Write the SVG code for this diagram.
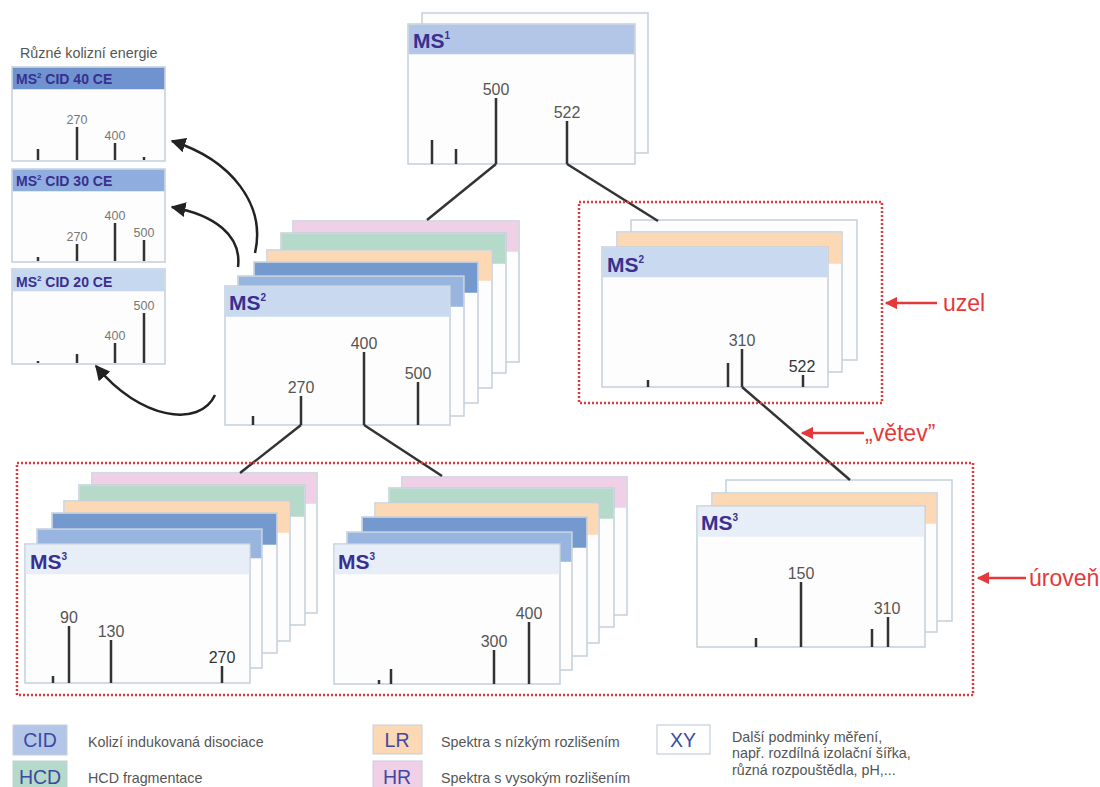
<svg xmlns="http://www.w3.org/2000/svg" width="1100" height="787" viewBox="0 0 1100 787">
<defs>
<style>
.card{fill:#fdfdfd;stroke:#c3cfdb;stroke-width:1.5}
.h-pk{fill:#efd0e6}.h-gr{fill:#b5dac9}.h-or{fill:#fcd8b5}.h-db{fill:#7399cf}.h-lb{fill:#98b5df}
.h-ms2{fill:#c9daf0}.h-ms3{fill:#e7eef8}.h-ms1{fill:#b4c6e8}
.h-40{fill:#6e93cf}.h-30{fill:#8faddf}.h-20{fill:#c6d8f0}
.peak{stroke:#333;stroke-width:2.5;fill:none}
.lbl{font-family:"Liberation Sans",Arial,sans-serif;font-size:16px;fill:#555;text-anchor:middle}
.slbl{font-family:"Liberation Sans",Arial,sans-serif;font-size:12.5px;fill:#777;text-anchor:middle}
.ms{font-family:"Liberation Sans",Arial,sans-serif;font-weight:bold;font-size:21px;fill:#3a2f8f}
.ptitle{font-family:"Liberation Sans",Arial,sans-serif;font-weight:bold;font-size:14px;fill:#3a2f8f}
.conn{stroke:#333;stroke-width:2.5;fill:none}
.curve{stroke:#222;stroke-width:2.5;fill:none}
.red{stroke:#e5383b;stroke-width:2.5;stroke-dasharray:2 2;fill:none}
.redl{stroke:#e5383b;stroke-width:2.5;fill:none}
.redt{font-family:"Liberation Sans",Arial,sans-serif;font-size:23px;fill:#e5383b}
.txt{font-family:"Liberation Sans",Arial,sans-serif;font-size:14.3px;fill:#555}
.ltag{font-family:"Liberation Sans",Arial,sans-serif;font-size:19.5px;fill:#3d4aa3;text-anchor:middle}
</style>
<marker id="ah" viewBox="0 0 10 10" refX="9" refY="5" markerWidth="6" markerHeight="6" orient="auto" markerUnits="strokeWidth">
<path d="M0,0 L10,5 L0,10 Z" fill="#222"/>
</marker>
<marker id="rh" viewBox="0 0 10 10" refX="9" refY="5" markerWidth="5" markerHeight="5" orient="auto" markerUnits="strokeWidth">
<path d="M0,0 L10,5 L0,10 Z" fill="#e5383b"/>
</marker>
</defs>

<rect width="1100" height="787" fill="#ffffff"/>

<!-- top-left panels -->
<g id="panels-title"><text class="txt" x="20" y="58">Různé kolizní energie</text></g>

<g id="cid40">
<rect class="card" x="12" y="67" width="153" height="94"/>
<rect class="h-40" x="12.75" y="67.75" width="151.5" height="21.5"/>
<text class="ptitle" x="16" y="84">MS<tspan dy="-6" font-size="8">2</tspan><tspan dy="6"> CID 40 CE</tspan></text>
<path class="peak" d="M38,160V149M77,160V127M115,160V143M144,160V157"/>
<text class="slbl" x="77" y="124">270</text>
<text class="slbl" x="115" y="140">400</text>
</g>

<g id="cid30">
<rect class="card" x="12" y="169" width="153" height="93"/>
<rect class="h-30" x="12.75" y="169.75" width="151.5" height="21.5"/>
<text class="ptitle" x="16" y="186">MS<tspan dy="-6" font-size="8">2</tspan><tspan dy="6"> CID 30 CE</tspan></text>
<path class="peak" d="M38,261V257M77,261V244M115,261V223M144,261V240"/>
<text class="slbl" x="77" y="241">270</text>
<text class="slbl" x="115" y="220">400</text>
<text class="slbl" x="144" y="237">500</text>
</g>

<g id="cid20">
<rect class="card" x="12" y="269" width="153" height="95"/>
<rect class="h-20" x="12.75" y="269.75" width="151.5" height="21.5"/>
<text class="ptitle" x="16" y="287">MS<tspan dy="-6" font-size="8">2</tspan><tspan dy="6"> CID 20 CE</tspan></text>
<path class="peak" d="M38,363V361M77,363V354M115,363V343M144,363V313"/>
<text class="slbl" x="115" y="340">400</text>
<text class="slbl" x="144" y="310">500</text>
</g>

<!-- MS1 -->
<g id="ms1">
<rect class="card" x="422" y="13" width="226" height="140"/>
<rect class="card" x="408" y="24" width="227" height="140"/>
<rect class="h-ms1" x="408.75" y="24.75" width="225.5" height="29.5"/>
<text class="ms" x="413" y="48">MS<tspan dy="-9" font-size="10">1</tspan></text>
<path class="peak" d="M432,164V140M456,164V149M496,164V98M567,164V121"/>
<text class="lbl" x="496" y="95">500</text>
<text class="lbl" x="567" y="118">522</text>
</g>

<!-- main MS2 stack -->
<g id="ms2-main">
<rect class="card" x="293" y="221" width="226" height="141"/>
<rect class="h-pk" x="293.75" y="221.75" width="224.5" height="30"/>
<rect class="card" x="281" y="233" width="225" height="140"/>
<rect class="h-gr" x="281.75" y="233.75" width="223.5" height="30"/>
<rect class="card" x="267" y="250" width="225" height="138"/>
<rect class="h-or" x="267.75" y="250.75" width="223.5" height="30"/>
<rect class="card" x="254" y="262" width="224" height="141"/>
<rect class="h-db" x="254.75" y="262.75" width="222.5" height="30"/>
<rect class="card" x="238" y="276" width="226" height="140"/>
<rect class="h-lb" x="238.75" y="276.75" width="224.5" height="30"/>
<rect class="card" x="225" y="286" width="225" height="139"/>
<rect class="h-ms2" x="225.75" y="286.75" width="223.5" height="30"/>
<text class="ms" x="229" y="310">MS<tspan dy="-9" font-size="10">2</tspan></text>
<path class="peak" d="M253,425V416M301,425V396M364,425V352M418,425V382"/>
<text class="lbl" x="301" y="393">270</text>
<text class="lbl" x="364" y="349">400</text>
<text class="lbl" x="418" y="379">500</text>
</g>

<!-- right MS2 node -->
<g id="ms2-right">
<rect class="card" x="631" y="220" width="226" height="140"/>
<rect class="card" x="617" y="232" width="225" height="140"/>
<rect class="h-or" x="617.75" y="232.75" width="223.5" height="31"/>
<rect class="card" x="602" y="247" width="226" height="140"/>
<rect class="h-ms2" x="602.75" y="247.75" width="224.5" height="29.5"/>
<text class="ms" x="607" y="272">MS<tspan dy="-9" font-size="10">2</tspan></text>
<path class="peak" d="M648,387V380M728,387V363M742,387V349M803,387V375"/>
<text class="lbl" x="742" y="346">310</text>
<text class="lbl" x="802" y="372" style="fill:#333">522</text>
</g>

<!-- MS3 left -->
<g id="ms3-left">
<rect class="card" x="92" y="473" width="225" height="140"/>
<rect class="h-pk" x="92.75" y="473.75" width="223.5" height="30"/>
<rect class="card" x="79" y="485" width="226" height="140"/>
<rect class="h-gr" x="79.75" y="485.75" width="224.5" height="31"/>
<rect class="card" x="64" y="501" width="226" height="140"/>
<rect class="h-or" x="64.75" y="501.75" width="224.5" height="31"/>
<rect class="card" x="52" y="513" width="225" height="140"/>
<rect class="h-db" x="52.75" y="513.75" width="223.5" height="31"/>
<rect class="card" x="37" y="529" width="225" height="139"/>
<rect class="h-lb" x="37.75" y="529.75" width="223.5" height="28.5"/>
<rect class="card" x="25" y="544" width="225" height="139"/>
<rect class="h-ms3" x="25.75" y="544.75" width="223.5" height="29.5"/>
<text class="ms" x="30" y="569">MS<tspan dy="-9" font-size="10">3</tspan></text>
<path class="peak" d="M53,683V676M69,683V626M111,683V640M222,683V666"/>
<text class="lbl" x="69" y="623">90</text>
<text class="lbl" x="111" y="637">130</text>
<text class="lbl" x="222" y="663" style="fill:#333">270</text>
</g>

<!-- MS3 middle -->
<g id="ms3-mid">
<rect class="card" x="402" y="477" width="225" height="138"/>
<rect class="h-pk" x="402.75" y="477.75" width="223.5" height="30"/>
<rect class="card" x="389" y="488" width="225" height="139"/>
<rect class="h-gr" x="389.75" y="488.75" width="223.5" height="30"/>
<rect class="card" x="375" y="503" width="224" height="140"/>
<rect class="h-or" x="375.75" y="503.75" width="222.5" height="31"/>
<rect class="card" x="362" y="517" width="225" height="139"/>
<rect class="h-db" x="362.75" y="517.75" width="223.5" height="30"/>
<rect class="card" x="347" y="532" width="225" height="138"/>
<rect class="h-lb" x="347.75" y="532.75" width="223.5" height="29"/>
<rect class="card" x="334" y="544" width="226" height="140"/>
<rect class="h-ms3" x="334.75" y="544.75" width="224.5" height="29.5"/>
<text class="ms" x="338" y="569">MS<tspan dy="-9" font-size="10">3</tspan></text>
<path class="peak" d="M379,684V680M391,684V669M494,684V650M529,684V622"/>
<text class="lbl" x="494" y="647">300</text>
<text class="lbl" x="529" y="619">400</text>
</g>

<!-- MS3 right -->
<g id="ms3-right">
<rect class="card" x="726" y="480" width="226" height="141"/>
<rect class="card" x="712" y="493" width="225" height="139"/>
<rect class="h-or" x="712.75" y="493.75" width="223.5" height="30"/>
<rect class="card" x="697" y="506" width="228" height="141"/>
<rect class="h-ms3" x="697.75" y="506.75" width="226.5" height="30"/>
<text class="ms" x="701" y="530">MS<tspan dy="-9" font-size="10">3</tspan></text>
<path class="peak" d="M756,647V638M801,647V582M872,647V629M888,647V617"/>
<text class="lbl" x="801" y="579">150</text>
<text class="lbl" x="887" y="614">310</text>
</g>

<!-- connectors -->
<g id="connectors">
<path class="conn" d="M496,164L427,220"/>
<path class="conn" d="M567,164L658,221"/>
<path class="conn" d="M301,425L240,473"/>
<path class="conn" d="M364,425L442,476"/>
<path class="conn" d="M742,387L850,480"/>
<path class="curve" d="M255,253C266,205 232,160 172,141" marker-end="url(#ah)"/>
<path class="curve" d="M238,267C242,235 214,215 172,207" marker-end="url(#ah)"/>
<path class="curve" d="M215,395C200,428 140,420 96,366" marker-end="url(#ah)"/>
</g>

<!-- annotations -->
<g id="uzel">
<rect class="red" x="579" y="202" width="303" height="201"/>
<path class="redl" d="M937,303H886" marker-end="url(#rh)"/>
<text class="redt" x="943" y="311">uzel</text>
</g>
<g id="vetev">
<path class="redl" d="M864,433H802" marker-end="url(#rh)"/>
<text class="redt" x="865" y="441">„větev”</text>
</g>
<g id="uroven">
<rect class="red" x="17" y="463" width="956" height="232"/>
<path class="redl" d="M1026,578H978" marker-end="url(#rh)"/>
<text class="redt" x="1029" y="586">úroveň</text>
</g>

<!-- legend -->
<g id="legend-cid">
<rect x="13" y="725" width="54" height="30" fill="#b4c6e8" stroke="#c3cfdb" stroke-width="1"/>
<text class="ltag" x="40" y="747">CID</text>
<text class="txt" x="88" y="747">Kolizí indukovaná disociace</text>
</g>
<g id="legend-hcd">
<rect x="13" y="761" width="54" height="30" fill="#b5dac9" stroke="#c3cfdb" stroke-width="1"/>
<text class="ltag" x="40" y="784">HCD</text>
<text class="txt" x="88" y="783">HCD fragmentace</text>
</g>
<g id="legend-lr">
<rect x="373" y="725" width="49" height="29" fill="#fcd8b5" stroke="#c3cfdb" stroke-width="1"/>
<text class="ltag" x="397" y="747">LR</text>
<text class="txt" x="441" y="747">Spektra s nízkým rozlišením</text>
</g>
<g id="legend-hr">
<rect x="373" y="761" width="49" height="30" fill="#efd0e6" stroke="#c3cfdb" stroke-width="1"/>
<text class="ltag" x="397" y="784">HR</text>
<text class="txt" x="441" y="783">Spektra s vysokým rozlišením</text>
</g>
<g id="legend-xy">
<rect x="657" y="725" width="53" height="29" fill="#ffffff" stroke="#c3cfdb" stroke-width="1.2"/>
<text class="ltag" x="683" y="747">XY</text>
<text class="txt" x="732" y="742">Další podminky měření,</text>
<text class="txt" x="732" y="758">např. rozdílná izolační šířka,</text>
<text class="txt" x="732" y="775">různá rozpouštědla, pH,...</text>
</g>
</svg>
